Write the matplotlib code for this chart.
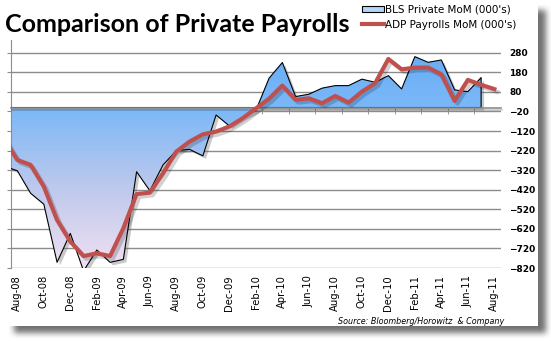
import numpy as np
import pandas as pd
import matplotlib
matplotlib.use('Agg')
import matplotlib.pyplot as plt
import matplotlib.patheffects as pe
from matplotlib.patches import Patch
from matplotlib.lines import Line2D
from matplotlib import transforms

# monthly changes in private payrolls, thousands (Jul-08 sits just off the left edge)
months = pd.date_range('2008-07-01', '2011-08-01', freq='MS').strftime('%b-%y').tolist()

bls = [-300, -323, -438, -494, -791, -643, -835, -728, -791, -776,
       -328, -425, -293, -220, -214, -247, -38, -94, -50, -15,
       150, 230, 56, 68, 99, 112, 112, 145, 129, 163,
       95, 260, 231, 243, 90, 81, 153]

adp = [-160, -268, -293, -404, -575, -685, -759, -745, -759, -617,
       -442, -435, -336, -225, -174, -137, -123, -97, -55, -5,
       45, 112, 39, 47, 22, 59, 25, 81, 124, 248,
       195, 204, 204, 170, 34, 141, 116, 94]

yticks = list(range(-820, 281, 100))

W, H = 551, 341
fig = plt.figure(figsize=(W / 100, H / 100), dpi=100)

# white card with a soft drop shadow
mask = np.zeros((H, W))
mask[10:333, 14:546] = 1.0
k = np.ones(7) / 7
for _ in range(2):
    mask = np.apply_along_axis(lambda r: np.convolve(r, k, mode='same'), 1, mask)
    mask = np.apply_along_axis(lambda c: np.convolve(c, k, mode='same'), 0, mask)
bg = np.repeat((1 - 0.55 * mask)[:, :, None], 3, axis=2)
bg[0:326, 0:538] = 1.0
fig.figimage(bg, 0, 0, origin='upper', zorder=-5)

ax = fig.add_axes([10.7 / W, 1 - 268 / H, (501 - 10.7) / W, (268 - 40) / H])
ax.set_facecolor('none')

x_bls = np.arange(len(bls))
x_adp = np.arange(len(adp))

ax.set_xlim(0.5, len(adp) - 0.5)
ax.set_ylim(-820, 345)

# area shadow, shifted down-right
shadow_tr = transforms.offset_copy(ax.transData, fig=fig, x=3, y=-3, units='dots')
ax.fill_between(x_bls, 0, bls, facecolor='#666666', alpha=0.35, lw=0,
                transform=shadow_tr, zorder=1)

# BLS area with vertical gradient
poly = ax.fill_between(x_bls, 0, bls, facecolor='none', edgecolor='black',
                       lw=0.8, zorder=3)
vals = np.linspace(300, -820, 300)
stops = [-820, -400, 0, 300]
r = np.interp(vals, stops, [240, 188, 122, 104])
g = np.interp(vals, stops, [224, 200, 184, 172])
b = np.interp(vals, stops, [242, 236, 248, 245])
grad = np.stack([r, g, b], axis=1)[:, None, :] / 255.0
img = ax.imshow(grad, extent=(0, len(adp), -820, 300), origin='upper',
                aspect='auto', zorder=2, interpolation='bilinear')
img.set_clip_path(poly.get_paths()[0], ax.transData)

# ADP line
ax.plot(x_adp, adp, color='#c0504d', lw=3, solid_joinstyle='round', zorder=5,
        path_effects=[pe.SimpleLineShadow(offset=(2, -2), shadow_color='black', alpha=0.18),
                      pe.Normal()])

# gridlines and value axis
ax.set_yticks(yticks)
ax.yaxis.grid(True, color='#8c8c8c', lw=1)
ax.set_axisbelow(True)
ax.tick_params(axis='y', left=True, right=False, labelleft=False, labelright=True,
               length=3, pad=3, color='#8c8c8c', labelsize=6.5)
for lab in ax.get_yticklabels():
    lab.set_fontweight('bold')

# category axis drawn at zero
ax.set_xticks(x_adp[1::2], months[1::2])
ax.set_xticks(np.arange(1.5, len(adp) - 1, 2), minor=True)
ax.tick_params(axis='x', which='major', length=0, pad=5, labelsize=7.2,
               labelrotation=90)
ax.tick_params(axis='x', which='minor', bottom=False, top=True, direction='in',
               length=4.5, color='#8c8c8c')
ax.spines['top'].set_position(('data', 0))
ax.spines['top'].set_color('#8c8c8c')
ax.spines['top'].set_linewidth(1.2)
ax.spines['top'].set_zorder(4)
ax.spines['top'].set_path_effects([pe.SimpleLineShadow(offset=(1, -1.5), shadow_color='black', alpha=0.2),
                                   pe.Normal()])
ax.spines['left'].set_color('#8c8c8c')
ax.spines['right'].set_visible(False)
ax.spines['bottom'].set_visible(False)

fig.text(5 / W, 1 - 32 / H, 'Comparison of Private Payrolls', fontsize=18,
         fontweight='bold', family='Lato', va='baseline')

handles = [Patch(facecolor='#b5d5f7', edgecolor='black', lw=0.8, label="BLS Private MoM (000's)"),
           Line2D([], [], color='#c0504d', lw=3, label="ADP Payrolls MoM (000's)")]
ax.legend(handles=handles, loc='upper left', bbox_to_anchor=(362 / W, 1 - 5 / H),
          bbox_transform=fig.transFigure, frameon=False, fontsize=7.5,
          handlelength=2.1, handleheight=0.55, handletextpad=0.15,
          labelspacing=0.45, borderpad=0, borderaxespad=0)

fig.text(504 / W, 1 - 324 / H, 'Source: Bloomberg/Horowitz  & Company', fontsize=5.8,
         style='italic', ha='right', va='baseline')

fig.savefig('out.png', dpi=100)
